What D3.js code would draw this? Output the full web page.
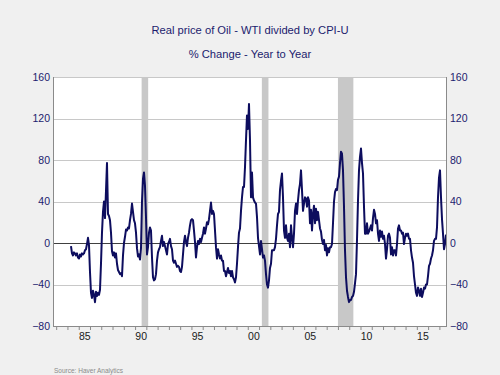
<!DOCTYPE html>
<html>
<head>
<meta charset="utf-8">
<script src="https://cdn.jsdelivr.net/npm/d3@7/dist/d3.min.js"></script>
<style>
  html, body { margin: 0; padding: 0; background: #f0f0f0; }
  svg { display: block; }
  text { font-family: "Liberation Sans", Arial, sans-serif; }
</style>
</head>
<body>
<svg id="chart" width="500" height="375"></svg>
<script>
// ---- Data ----
const titleText = "Real price of Oil - WTI divided by CPI-U";
const subtitleText = "% Change - Year to Year";
const sourceText = "Source:  Haver Analytics";

// Y/Y % change, evenly spaced readings from seriesStart to seriesEnd
const seriesStart = "1984-04-25";
const seriesEnd = "2017-08-03";
const values1984_1990 = [-3,-10,-12,-9,-10,-12,-10,-14,-15,-11,-13,-10,-11,-10,-7,-6,-1,5,-2,-28,
  -48,-53,-46,-50,-57,-47,-51,-48,-50,-45,-20,10,30,40,24,50,77,28,26,22,
  10,-8,-12,-9,-14,-10,-20,-26,-28,-30,-29,-32,-12,0,6,13,12,15,14,22,
  28,38,30,22,19,10,-5,-13,-11,-16,-5,40,62,68];
const values1990_1997 = [55,25,-11,-4,10,15,12,-14,-33,-36,-35,-30,-17,-9,-6,-4,2,7,-3,1,
  -3,-7,-11,-1,1,4,-3,-6,-17,-19,-17,-20,-23,-22,-23,-27,-28,-23,-11,1,
  7,1,-3,5,10,17,22,23,22,12,1,-14,-4,2,-1,4,1,5,9,15,
  9,14,20,18,23,31,39,28,31,28,12,-4,-15,-6,-11,-15,-12,-17,-17,-27];
const values1997_2005 = [-27,-32,-28,-24,-29,-27,-32,-27,-33,-35,-38,-33,-20,-4,10,14,31,44,54,54,
  73,99,123,110,134,99,44,68,44,41,39,38,25,5,-3,-11,2,-6,-14,-12,
  -17,-30,-40,-43,-36,-24,-20,-7,-7,-7,-4,4,17,28,30,51,60,67,44,12,
  5,17,5,2,9,-4,17,5,-4,9,31,38,28,41,51,57,70,51,31,38];
const values2005_2012 = [44,43,35,44,41,19,32,12,28,36,19,33,22,30,22,14,11,3,-1,3,
  -7,-2,-12,-5,-9,-4,-4,-1,19,40,49,52,51,61,64,77,88,86,70,35,
  -7,-33,-46,-52,-57,-55,-55,-52,-51,-47,-39,-30,3,41,70,83,91,77,67,35,
  9,9,19,9,11,14,17,12,24,32,28,19,22,9,2,12,6,11,4,7];
const values2012_2017 = [-1,-15,-6,7,9,5,-11,-4,-12,-7,-7,-12,-1,14,17,12,12,9,10,-1,
  5,9,7,9,4,4,-7,-14,-19,-32,-40,-48,-51,-43,-46,-51,-44,-52,-48,-43,
  -44,-40,-40,-32,-22,-20,-15,-12,-7,2,4,4,15,44,63,70,44,23,9,-6,
  -1,8];

// NBER recessions (shaded)
const recessionStarts = ["1990-08-01", "2001-04-01", "2008-01-01"];
const recessionEnds   = ["1991-03-01", "2001-11-01", "2009-05-15"];

// Axes
const yTicks = [-80, -40, 0, 40, 80, 120, 160];
const xLabelYears = [1985, 1990, 1995, 2000, 2005, 2010, 2015];
const xLabels = ["85", "90", "95", "00", "05", "10", "15"];
const xDomain = ["1982-09-20", "2017-08-03"];
const yDomain = [-80, 160];

// ---- Drawing ----
const svg = d3.select("#chart");
const W = 500, H = 375;
const plot = { left: 53, right: 446, top: 77, bottom: 326 };
const parse = d3.utcParse("%Y-%m-%d");

const values = [].concat(values1984_1990, values1990_1997, values1997_2005, values2005_2012, values2012_2017);
const t0 = parse(seriesStart).getTime(), t1 = parse(seriesEnd).getTime();
const series = values.map((v, i) => ({ date: new Date(t0 + (t1 - t0) * i / (values.length - 1)), value: v }));

const x = d3.scaleUtc().domain(xDomain.map(parse)).range([plot.left, plot.right]);
const y = d3.scaleLinear().domain(yDomain).range([plot.bottom, plot.top]);

svg.append("rect").attr("width", W).attr("height", H).attr("fill", "#f0f0f0");
svg.append("rect")
  .attr("x", plot.left).attr("y", plot.top)
  .attr("width", plot.right - plot.left).attr("height", plot.bottom - plot.top)
  .attr("fill", "#ffffff");

// recession bands
svg.append("g").selectAll("rect")
  .data(recessionStarts.map((s, i) => [parse(s), parse(recessionEnds[i])]))
  .join("rect")
  .attr("x", d => x(d[0]))
  .attr("width", d => x(d[1]) - x(d[0]))
  .attr("y", plot.top)
  .attr("height", plot.bottom - plot.top)
  .attr("fill", "#c8c8c8");

// gridlines
svg.append("g").selectAll("line")
  .data(yTicks.filter(v => v !== 0 && v !== -80))
  .join("line")
  .attr("x1", plot.left).attr("x2", plot.right)
  .attr("y1", d => Math.round(y(d)) + 0.5).attr("y2", d => Math.round(y(d)) + 0.5)
  .attr("stroke", "#c8c8c8").attr("stroke-width", 1);

// zero line
svg.append("line")
  .attr("x1", plot.left).attr("x2", plot.right)
  .attr("y1", Math.round(y(0)) + 0.5).attr("y2", Math.round(y(0)) + 0.5)
  .attr("stroke", "#404040").attr("stroke-width", 1);

// data line
svg.append("path")
  .datum(series)
  .attr("fill", "none")
  .attr("stroke", "#0d0d5e")
  .attr("stroke-width", 2)
  .attr("stroke-linejoin", "round")
  .attr("d", d3.line().x(d => x(d.date)).y(d => y(d.value)));

// axis frame lines
const axisColor = "#8a8a8a";
svg.append("line").attr("x1", plot.left + 0.5).attr("x2", plot.left + 0.5)
  .attr("y1", plot.top).attr("y2", plot.bottom).attr("stroke", axisColor);
svg.append("line").attr("x1", plot.right + 0.5).attr("x2", plot.right + 0.5)
  .attr("y1", plot.top).attr("y2", plot.bottom).attr("stroke", axisColor);
svg.append("line").attr("x1", plot.left).attr("x2", plot.right + 1)
  .attr("y1", plot.bottom + 0.5).attr("y2", plot.bottom + 0.5).attr("stroke", axisColor);

// y axes labels (left + right)
const yAxisL = d3.axisLeft(y).tickValues(yTicks).tickSize(0).tickPadding(3);
const gl = svg.append("g").attr("transform", `translate(${plot.left},0)`).call(yAxisL);
const yAxisR = d3.axisRight(y).tickValues(yTicks).tickSize(0).tickPadding(4);
const gr = svg.append("g").attr("transform", `translate(${plot.right},0)`).call(yAxisR);
[gl, gr].forEach(g => {
  g.select(".domain").remove();
  g.selectAll("text").attr("font-size", 10.5).attr("fill", "#1c1c6e")
    .attr("font-family", "'Liberation Sans', Arial, sans-serif");
});

// x axis: yearly ticks, labels mid-year
const yearTicks = d3.utcYear.range(parse("1983-01-01"), parse("2018-01-01"));
const xAxisTicks = d3.axisBottom(x).tickValues(yearTicks).tickSize(4).tickFormat("");
const gx = svg.append("g").attr("transform", `translate(0,${plot.bottom})`).call(xAxisTicks);
gx.select(".domain").remove();
gx.selectAll("line").attr("stroke", axisColor);

const xLabelScaleDates = xLabelYears.map(yr => new Date(Date.UTC(yr, 6, 1)));
const xAxisLabels = d3.axisBottom(x).tickValues(xLabelScaleDates).tickSize(0).tickPadding(7)
  .tickFormat((d, i) => xLabels[i]);
const gxl = svg.append("g").attr("transform", `translate(0,${plot.bottom})`).call(xAxisLabels);
gxl.select(".domain").remove();
gxl.selectAll("text").attr("font-size", 10.5).attr("fill", "#1a1a1a")
  .attr("font-family", "'Liberation Sans', Arial, sans-serif");

// titles
svg.append("text").attr("x", 250).attr("y", 34).attr("text-anchor", "middle")
  .attr("font-size", 11.2).attr("fill", "#1c1c6e").text(titleText);
svg.append("text").attr("x", 250).attr("y", 58).attr("text-anchor", "middle")
  .attr("font-size", 11.2).attr("fill", "#1c1c6e").text(subtitleText);
svg.append("text").attr("x", 54).attr("y", 373)
  .attr("font-size", 6.5).attr("fill", "#8a8a8a").text(sourceText);
</script>
</body>
</html>
